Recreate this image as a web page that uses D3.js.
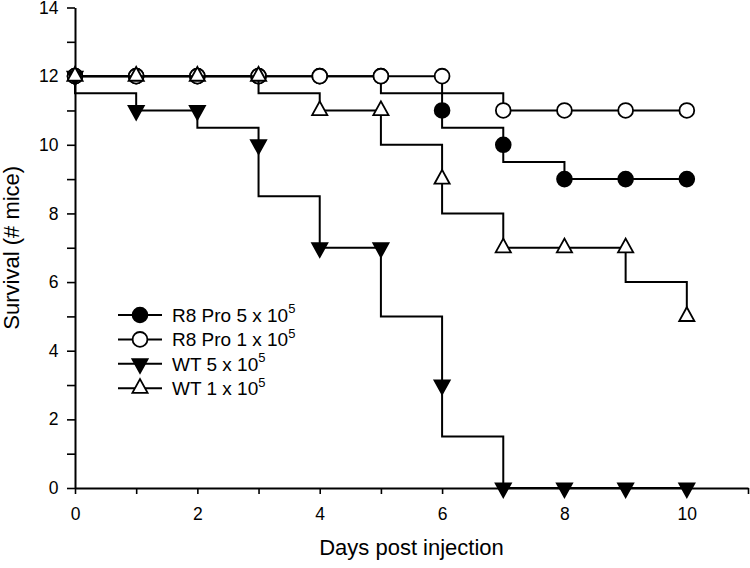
<!DOCTYPE html>
<html>
<head>
<meta charset="utf-8">
<script src="https://cdn.jsdelivr.net/npm/d3@7"></script>
<style>
  html, body { margin: 0; padding: 0; background: #fff; }
  svg { display: block; font-family: "Liberation Sans", Arial, sans-serif; }
</style>
</head>
<body>
<svg id="chart" width="750" height="568"></svg>
<script>
// ---- data ----
const days = [0, 1, 2, 3, 4, 5, 6, 7, 8, 9, 10];
const r8Pro5 = [12, 12, 12, 12, 12, 12, 11, 10, 9, 9, 9];
const r8Pro1 = [12, 12, 12, 12, 12, 12, 12, 11, 11, 11, 11];
const wt5 = [12, 11, 11, 10, 7, 7, 3, 0, 0, 0, 0];
const wt1 = [12, 12, 12, 12, 11, 11, 9, 7, 7, 7, 5];
const seriesNames = ["R8 Pro 5 x 10", "R8 Pro 1 x 10", "WT 5 x 10", "WT 1 x 10"];
const seriesSup = ["5", "5", "5", "5"];
const xTicks = [0, 1, 2, 3, 4, 5, 6, 7, 8, 9, 10, 11];
const xTickLabels = ["0", "", "2", "", "4", "", "6", "", "8", "", "10", ""];
const yTicks = [0, 1, 2, 3, 4, 5, 6, 7, 8, 9, 10, 11, 12, 13, 14];
const yTickLabels = ["0", "", "2", "", "4", "", "6", "", "8", "", "10", "", "12", "", "14"];
const xTitle = "Days post injection";
const yTitle = "Survival (# mice)";

const svg = d3.select("#chart");
const x = d3.scaleLinear().domain([0, 11]).range([75, 748]);
const y = d3.scaleLinear().domain([0, 14]).range([488, 7.5]);

// axes
const xAxis = d3.axisBottom(x).tickValues(xTicks).tickSize(6).tickSizeOuter(0)
  .tickFormat((d, i) => xTickLabels[i]);
const yAxis = d3.axisLeft(y).tickValues(yTicks).tickSize(8).tickSizeOuter(0)
  .tickFormat((d, i) => yTickLabels[i]);

const gx = svg.append("g").attr("transform", `translate(0,${y(0)})`).call(xAxis);
const gy = svg.append("g").attr("transform", `translate(${x(0)},0)`).call(yAxis);
[gx, gy].forEach(g => {
  g.select(".domain").attr("stroke", "#000").attr("stroke-width", 2);
  g.selectAll(".tick line").attr("stroke", "#000").attr("stroke-width", 1.6);
  g.selectAll(".tick text").attr("fill", "#000").attr("font-size", 17.5)
    .attr("font-family", "Liberation Sans, Arial, sans-serif");
});
gx.selectAll(".tick text").attr("y", 20);
gy.selectAll(".tick text").attr("x", -16.5);

// titles
svg.append("text").attr("x", (x(0) + x(11)) / 2).attr("y", 555)
  .attr("text-anchor", "middle").attr("font-size", 22).text(xTitle);
svg.append("text").attr("transform", `translate(18.5,${y(7)}) rotate(-90)`)
  .attr("text-anchor", "middle").attr("font-size", 22).text(yTitle);

// marker shapes
function marker(g, type, cx, cy) {
  if (type === "circleFilled" || type === "circleOpen") {
    g.append("circle").attr("cx", cx).attr("cy", cy).attr("r", 7.4)
      .attr("fill", type === "circleFilled" ? "#000" : "#fff")
      .attr("stroke", "#000").attr("stroke-width", 1.8);
  } else if (type === "triDown") {
    g.append("path")
      .attr("d", `M${cx - 7.6},${cy - 4.6}L${cx + 7.6},${cy - 4.6}L${cx},${cy + 9.2}Z`)
      .attr("fill", "#000").attr("stroke", "#000").attr("stroke-width", 1.8)
      .attr("stroke-linejoin", "miter");
  } else {
    g.append("path")
      .attr("d", `M${cx - 7.6},${cy + 4.6}L${cx + 7.6},${cy + 4.6}L${cx},${cy - 9.2}Z`)
      .attr("fill", "#fff").attr("stroke", "#000").attr("stroke-width", 1.8)
      .attr("stroke-linejoin", "miter");
  }
}

const series = [
  { values: r8Pro5, type: "circleFilled" },
  { values: r8Pro1, type: "circleOpen" },
  { values: wt5, type: "triDown" },
  { values: wt1, type: "triUp" }
];

function stepPath(vals) {
  let d = `M${x(days[0])},${y(vals[0])}`;
  for (let i = 1; i < vals.length; i++) {
    const mid = (vals[i - 1] + vals[i]) / 2;
    d += `V${y(mid)}H${x(days[i])}V${y(vals[i])}`;
  }
  return d;
}

series.forEach(s => {
  const g = svg.append("g");
  g.append("path").attr("d", stepPath(s.values)).attr("fill", "none")
    .attr("stroke", "#000").attr("stroke-width", 2);
  s.values.forEach((v, i) => marker(g, s.type, x(days[i]), y(v)));
});

// legend
const legendY0 = 315, legendDy = 24.4;
series.forEach((s, i) => {
  const g = svg.append("g");
  const ly = legendY0 + i * legendDy;
  g.append("line").attr("x1", 118).attr("x2", 162).attr("y1", ly).attr("y2", ly)
    .attr("stroke", "#000").attr("stroke-width", 2);
  marker(g, s.type, 140, ly);
  const t = g.append("text").attr("x", 172).attr("y", ly + 6.8).attr("font-size", 19);
  t.append("tspan").text(seriesNames[i]);
  t.append("tspan").attr("font-size", 13).attr("dy", -8.5).text(seriesSup[i]);
});
</script>
</body>
</html>
